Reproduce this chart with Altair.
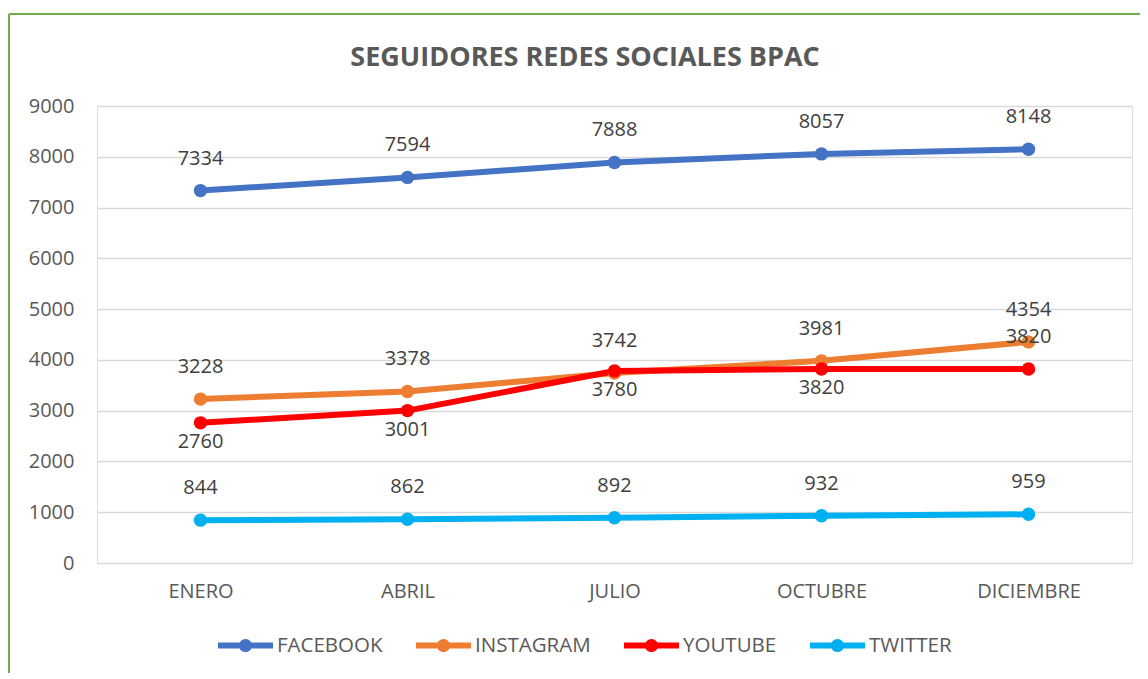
import altair as alt
import pandas as pd

months = ["ENERO", "ABRIL", "JULIO", "OCTUBRE", "DICIEMBRE"]
series = ["FACEBOOK", "INSTAGRAM", "YOUTUBE", "TWITTER"]
facebook = [7334, 7594, 7888, 8057, 8148]
instagram = [3228, 3378, 3742, 3981, 4354]
youtube = [2760, 3001, 3780, 3820, 3820]
twitter = [844, 862, 892, 932, 959]
colors = ["#4472C4", "#ED7D31", "#FF0000", "#00B0F0"]
y_ticks = [0, 1000, 2000, 3000, 4000, 5000, 6000, 7000, 8000, 9000]
title_text = "SEGUIDORES REDES SOCIALES BPAC"

rows = []
for name, vals in zip(series, [facebook, instagram, youtube, twitter]):
    for i, (m, v) in enumerate(zip(months, vals)):
        rows.append({"mes": m, "serie": name, "valor": v, "idx": i})
df = pd.DataFrame(rows)

FONT = "Open Sans"

x_enc = alt.X("mes:N", sort=months, scale=alt.Scale(domain=months, padding=0.5),
              axis=alt.Axis(title=None, labelAngle=0, ticks=False, domain=False,
                            labelFontSize=20, labelColor="#595959", labelFont=FONT,
                            labelPadding=18, grid=False))
y_enc = alt.Y("valor:Q", scale=alt.Scale(domain=[0, 9000], nice=False),
              axis=alt.Axis(title=None, values=y_ticks, ticks=False, domain=False,
                            labelFontSize=20, labelColor="#595959", labelFont=FONT,
                            labelPadding=23, gridColor="#D9D9D9", gridWidth=1.5,
                            format="d"))
color_scale = alt.Scale(domain=series, range=colors)

sym = ("M-1,-0.11 L1,-0.11 L1,0.11 L-1,0.11 Z "
       "M-0.24,0 A0.24,0.24 0 1,1 0.24,0 A0.24,0.24 0 1,1 -0.24,0 Z")

legend = alt.Legend(title=None, orient="none", direction="horizontal",
                    legendX=121, legendY=512, symbolType=sym,
                    symbolSize=3025, symbolStrokeWidth=0,
                    labelFontSize=20.5, labelColor="#595959",
                    labelFont=FONT, labelOffset=4,
                    columnPadding=33, padding=0)

base = alt.Chart(df)

lines = base.mark_line(strokeWidth=6).encode(
    x=x_enc, y=y_enc,
    color=alt.Color("serie:N", scale=color_scale, sort=series, legend=legend),
)
points = base.mark_circle(size=180, opacity=1).encode(
    x=x_enc, y=y_enc,
    color=alt.Color("serie:N", scale=color_scale, sort=series, legend=legend),
)

above = base.mark_text(fontSize=20, color="#404040", font=FONT, dy=-32).encode(
    x=x_enc, y=y_enc, text=alt.Text("valor:Q", format="d")
).transform_filter("datum.serie != 'YOUTUBE' || datum.idx == 4")

below = base.mark_text(fontSize=20, color="#404040", font=FONT, dy=19).encode(
    x=x_enc, y=y_enc, text=alt.Text("valor:Q", format="d")
).transform_filter("datum.serie == 'YOUTUBE' && datum.idx < 4")

title_mark = alt.Chart(pd.DataFrame({"t": [title_text]})).mark_text(
    fontSize=27, fontWeight="bold", color="#595959", font=FONT,
    align="center", baseline="alphabetic").encode(
    x=alt.value(488), y=alt.value(-40), text="t:N")

border_left = alt.Chart(df).mark_rule(color="#70AD47", strokeWidth=1.5).encode(
    x=alt.value(-88), y=alt.value(-92), y2=alt.value(700))
border_top = alt.Chart(df).mark_rule(color="#70AD47", strokeWidth=1.5).encode(
    x=alt.value(-88), x2=alt.value(1100), y=alt.value(-92))

chart = alt.layer(border_left, border_top, title_mark, lines, points, above, below).properties(
    width=1035, height=457,
    autosize=alt.AutoSizeParams(type="none"),
    padding={"left": 89, "top": 98, "right": 8, "bottom": 110},
).configure_view(strokeWidth=0, stroke="transparent").configure(background="white")

chart.save("out.html", embed_options={"renderer": "svg", "actions": False})
